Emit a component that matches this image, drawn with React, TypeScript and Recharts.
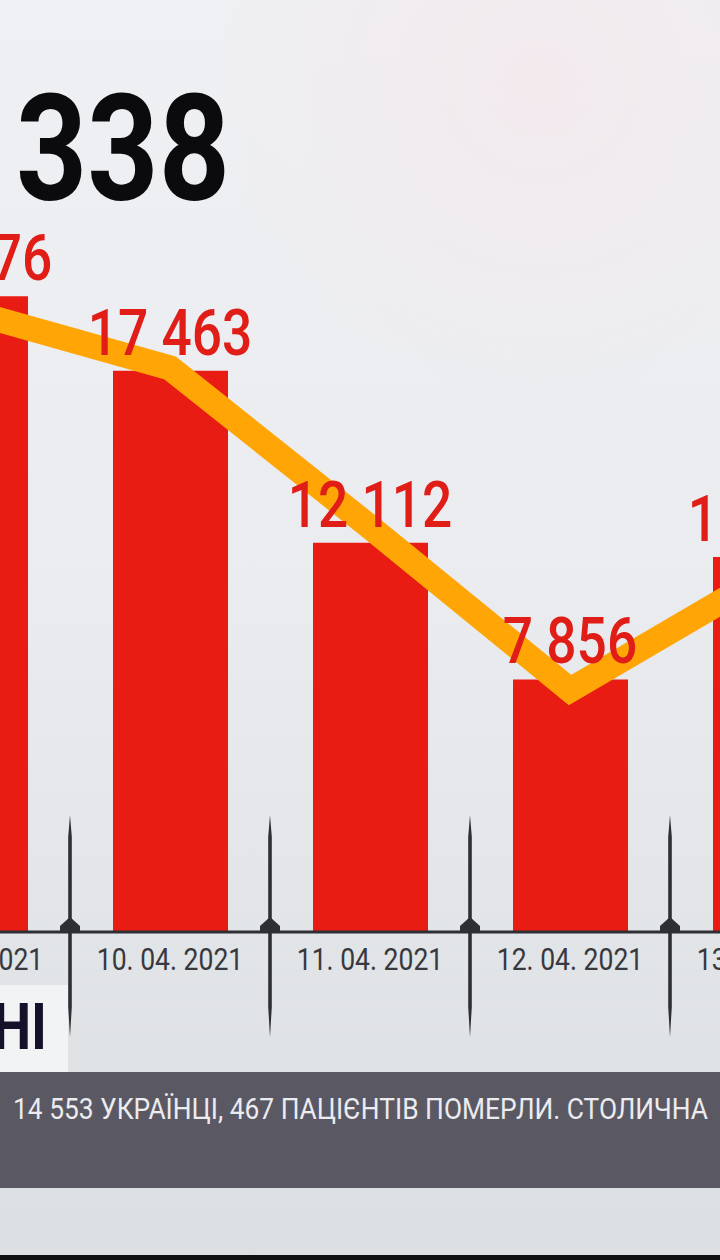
import React from 'react';
import { ComposedChart, Bar, Line, XAxis, YAxis, LabelList } from 'recharts';

const dates = ['09. 04. 2021', '10. 04. 2021', '11. 04. 2021', '12. 04. 2021', '13. 04. 2021'];
const cases = [19776, 17463, 12112, 7856, 11669];
const trend = [19300, 17550, 12600, 7530, 11170];

const headline = '338';
const sideLabel = 'НІ';
const ticker = '14 553 УКРАЇНЦІ, 467 ПАЦІЄНТІВ ПОМЕРЛИ. СТОЛИЧНА';

const data = dates.map((d, i) => ({ date: d, cases: cases[i], trend: trend[i] }));

const fmt = (v: number) => String(v).replace(/\B(?=(\d{3})+(?!\d))/g, ' ');

const FONT = 'Roboto, "Noto Sans", sans-serif';

const Tick = (props: any) => {
  const { x, y, payload } = props;
  const half = payload && payload.offset ? payload.offset : 100;
  const sx = x - half;
  return (
    <g>
      <polygon
        points={`${sx},${y - 117} ${sx + 1.8},${y - 95} ${sx + 1.8},${y + 75} ${sx},${y + 105} ${sx - 1.8},${y + 75} ${sx - 1.8},${y - 95}`}
        fill="#2e2f34"
      />
      <polygon
        points={`${sx},${y - 15} ${sx + 10},${y - 6} ${sx + 10},${y} ${sx - 10},${y} ${sx - 10},${y - 6}`}
        fill="#2e2f34"
      />
      <text
        transform={`translate(${x},${y + 38}) scale(0.83,1)`}
        textAnchor="middle"
        fontSize={32}
        fontFamily={FONT}
        fill="#38393e"
      >
        {payload.value}
      </text>
    </g>
  );
};

const ValueLabel = (props: any) => {
  const { x, y, value } = props;
  if (value == null) return null;
  return (
    <text
      transform={`translate(${x},${y - 16}) scale(0.82,1)`}
      textAnchor="middle"
      fontSize={65}
      fontWeight={500}
      fontFamily={FONT}
      fill="#e01d17"
    >
      {fmt(value)}
    </text>
  );
};

export default function App() {
  return (
    <div style={{ position: 'absolute', left: 0, top: 0, width: 720, height: 1260, overflow: 'hidden' }}>
      <svg width={720} height={1260} style={{ position: 'absolute', left: 0, top: 0 }}>
        <defs>
          <linearGradient id="bg" x1="0" y1="0" x2="0" y2="1">
            <stop offset="0" stopColor="#eff0f3" />
            <stop offset="0.45" stopColor="#eaecef" />
            <stop offset="0.85" stopColor="#dfe2e5" />
            <stop offset="1" stopColor="#dde0e3" />
          </linearGradient>
          <radialGradient id="pink" cx="0.75" cy="0.12" r="0.45">
            <stop offset="0" stopColor="#f3e9ed" stopOpacity="0.9" />
            <stop offset="1" stopColor="#f3e9ed" stopOpacity="0" />
          </radialGradient>
        </defs>
        <rect x={0} y={0} width={720} height={1260} fill="url(#bg)" />
        <rect x={0} y={0} width={720} height={700} fill="url(#pink)" />
      </svg>
      <div style={{ position: 'absolute', left: -130, top: 0 }}>
        <ComposedChart
          width={1000}
          height={1260}
          data={data}
          margin={{ top: 32, right: 0, left: 0, bottom: 298 }}
          barCategoryGap={0}
        >
          <XAxis
            dataKey="date"
            height={30}
            interval={0}
            tickLine={false}
            tickSize={0}
            tickMargin={0}
            axisLine={{ stroke: '#2e2f34', strokeWidth: 3 }}
            tick={<Tick />}
          />
          <YAxis hide domain={[0, 28000]} />
          <Bar dataKey="cases" fill="#e81c12" barSize={115} isAnimationActive={false} />
          <Line
            dataKey="trend"
            type="linear"
            stroke="#ffa505"
            strokeWidth={25}
            dot={false}
            activeDot={false}
            isAnimationActive={false}
          />
          <Line dataKey="cases" stroke="none" dot={false} activeDot={false} isAnimationActive={false}>
            <LabelList dataKey="cases" content={<ValueLabel />} />
          </Line>
        </ComposedChart>
      </div>
      <svg width={720} height={1260} style={{ position: 'absolute', left: 0, top: 0 }}>
        <text
          transform="translate(16,200) scale(0.84,1)"
          fontSize={148}
          fontWeight={700}
          fontFamily={FONT}
          fill="#0b0b0d"
        >
          {headline}
        </text>
        <rect x={0} y={985} width={68} height={87} fill="#f2f3f5" />
        <text
          transform="translate(47,1049) scale(0.85,1)"
          textAnchor="end"
          fontSize={64}
          fontWeight={700}
          fontFamily={FONT}
          fill="#15112b"
        >
          {sideLabel}
        </text>
        <rect x={0} y={1072} width={720} height={116} fill="#5a5963" />
        <text
          x={13}
          y={1119}
          fontSize={29}
          fontFamily={FONT}
          fill="#ecebf0"
          textLength={695}
          lengthAdjust="spacingAndGlyphs"
        >
          {ticker}
        </text>
        <rect x={0} y={1255} width={720} height={5} fill="#111" />
      </svg>
    </div>
  );
}
